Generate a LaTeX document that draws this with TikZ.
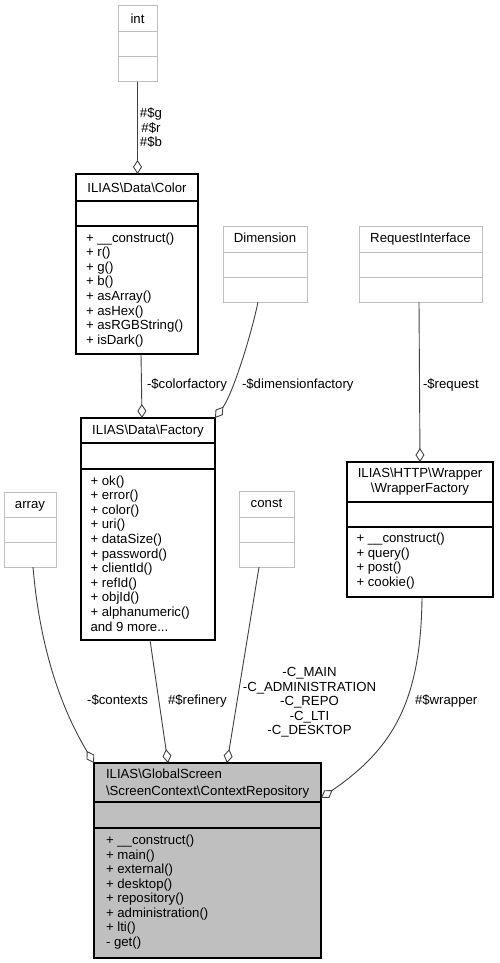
\documentclass[tikz,border=0pt]{standalone}
\usepackage{fontspec}
\setmainfont{Liberation Sans}
\usetikzlibrary{arrows.meta,calc}
\definecolor{edgegray}{HTML}{404040}
\definecolor{boxgray}{HTML}{BFBFBF}
\begin{document}
\begin{tikzpicture}[x=1pt,y=-1pt,
  every node/.style={font=\fontsize{13.2}{14.6}\selectfont, inner sep=0pt, outer sep=0pt},
  blackbox/.style={draw=black, line width=1.1pt, anchor=north west},
  graybox/.style={draw=boxgray, line width=1pt, anchor=north west},
  blackdiv/.style={draw=black, line width=1.1pt},
  graydiv/.style={draw=boxgray, line width=1pt},
  assoc/.style={draw=edgegray, line width=0.9pt, -{Diamond[open,length=14pt,width=9pt,line width=0.9pt]}},
  hdr/.style={anchor=base},
  item/.style={anchor=base west}
]
\useasboundingbox (0,0) rectangle (499,963);

% ---- int
\node[graybox, minimum width=39pt, minimum height=76pt] (int) at (118,6) {};
\draw[graydiv] (118,32) -- (157,32) (118,57) -- (157,57);
\node[hdr] (intH) at (137.5,23.5) {int};

% ---- Color
\node[blackbox, minimum width=122pt, minimum height=180pt] (color) at (76,174) {};
\draw[blackdiv] (76,201) -- (198,201) (76,226) -- (198,226);
\node[hdr] (colorH) at (137,192) {ILIAS\textbackslash Data\textbackslash Color};
\foreach \t [count=\i from 0] in {{+ \_\_construct()},{+ r()},{+ g()},{+ b()},{+ asArray()},{+ asHex()},{+ asRGBString()},{+ isDark()}}
  \node[item] (colorop\i) at (86,{242+14.6*\i}) {\t};

% ---- Dimension
\node[graybox, minimum width=84pt, minimum height=76pt] (dim) at (223,226) {};
\draw[graydiv] (223,252) -- (307,252) (223,277) -- (307,277);
\node[hdr] (dimH) at (265,242.5) {Dimension};

% ---- RequestInterface
\node[graybox, minimum width=123pt, minimum height=76pt] (req) at (359,226) {};
\draw[graydiv] (359,252) -- (482,252) (359,277) -- (482,277);
\node[hdr] (reqH) at (420.5,242.5) {RequestInterface};

% ---- Factory
\node[blackbox, minimum width=134pt, minimum height=222pt] (factory) at (81,418) {};
\draw[blackdiv] (81,443) -- (215,443) (81,469) -- (215,469);
\node[hdr] (factoryH) at (148,434) {ILIAS\textbackslash Data\textbackslash Factory};
\foreach \t [count=\i from 0] in {{+ ok()},{+ error()},{+ color()},{+ uri()},{+ dataSize()},{+ password()},{+ clientId()},{+ refId()},{+ objId()},{+ alphanumeric()}}
  \node[item] (factoryop\i) at (90.5,{485+14.6*\i}) {\t};
\node[item] (factorymore) at (90.5,631) {and 9 more...};

% ---- array
\node[graybox, minimum width=52pt, minimum height=75pt] (array) at (4,492) {};
\draw[graydiv] (4,517) -- (56,517) (4,542) -- (56,542);
\node[hdr] (arrayH) at (30,508) {array};

% ---- const
\node[graybox, minimum width=55pt, minimum height=76pt] (const) at (239,491) {};
\draw[graydiv] (239,517) -- (294,517) (239,542) -- (294,542);
\node[hdr] (constH) at (266.5,507.5) {const};

% ---- WrapperFactory
\node[blackbox, minimum width=146pt, minimum height=135pt] (wrap) at (347,462) {};
\draw[blackdiv] (347,502) -- (493,502) (347,527) -- (493,527);
\node[hdr] (wrapH1) at (420,477) {ILIAS\textbackslash HTTP\textbackslash Wrapper};
\node[hdr] (wrapH2) at (420,492.5) {\textbackslash WrapperFactory};
\foreach \t [count=\i from 0] in {{+ \_\_construct()},{+ query()},{+ post()},{+ cookie()}}
  \node[item] (wrapop\i) at (356.5,{542.5+14.6*\i}) {\t};

% ---- ContextRepository
\node[blackbox, fill=boxgray, minimum width=227pt, minimum height=195pt] (cr) at (94,763) {};
\draw[blackdiv] (94,802) -- (321,802) (94,828) -- (321,828);
\node[item] (crH1) at (106,778.5) {ILIAS\textbackslash GlobalScreen};
\node[item] (crH2) at (106,795) {\textbackslash ScreenContext\textbackslash ContextRepository};
\foreach \t [count=\i from 0] in {{+ \_\_construct()},{+ main()},{+ external()},{+ desktop()},{+ repository()},{+ administration()},{+ lti()},{- get()}}
  \node[item] (crop\i) at (106,{844.5+14.5*\i}) {\t};

% ---- connectors
\draw[assoc] (int.south) -- (int.south |- color.north);
\draw[assoc] ($(color.south west)+(65,0)$) -- ($(factory.north west)+(61,0)$);
\draw[assoc] ($(dim.south west)+(35,0)$) .. controls (250,340) and (232,395) .. (factory.north east);
\draw[assoc] ($(req.south west)+(60,0)$) -- ($(wrap.north west)+(73,0)$);
\draw[assoc] ($(array.south west)+(29,0)$) .. controls (40,650) and (62,710) .. (cr.north west);
\draw[assoc] ($(factory.south west)+(69,0)$) -- ($(cr.north west)+(74,0)$);
\draw[assoc] ($(const.south west)+(20,0)$) -- ($(cr.north west)+(133,0)$);
\draw[assoc] ($(wrap.south west)+(75,0)$) .. controls (421,700) and (394,748) .. ($(cr.north east)+(0,35)$);

% ---- labels
\foreach \t [count=\i from 0] in {{\#\$g},{\#\$r},{\#\$b}}
  \node[hdr] (lint\i) at (151,{117.5+14.5*\i}) {\t};
\node[anchor=base west] (lcf) at (147,388.5) {-\$colorfactory};
\node[anchor=base west] (ldf) at (242,388.5) {-\$dimensionfactory};
\node[anchor=base west] (lrq) at (423,388.5) {-\$request};
\node[anchor=base east] (lctx) at (148,704.5) {-\$contexts};
\node[anchor=base west] (lref) at (168,704.5) {\#\$refinery};
\node[anchor=base west] (lwr) at (415,704.5) {\#\$wrapper};
\foreach \t [count=\i from 0] in {{-C\_MAIN},{-C\_ADMINISTRATION},{-C\_REPO},{-C\_LTI},{-C\_DESKTOP}}
  \node[hdr] (lconst\i) at (309.5,{676.5+14.5*\i}) {\t};
\end{tikzpicture}
\end{document}
